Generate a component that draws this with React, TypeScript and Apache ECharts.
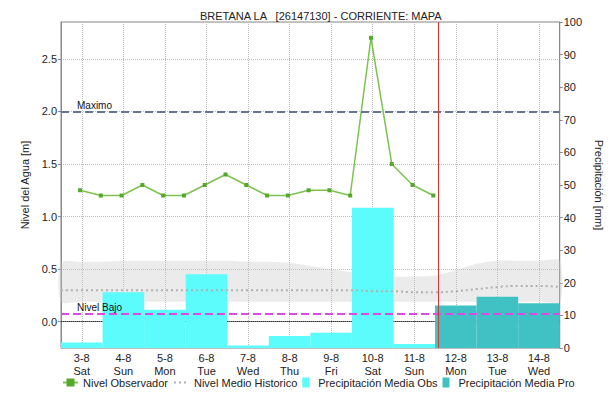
import React, { useEffect, useRef } from "react";
import * as echarts from "echarts";

const titleText = "BRETANA LA   [26147130] - CORRIENTE: MAPA";
const dayLabels = ["3-8", "4-8", "5-8", "6-8", "7-8", "8-8", "9-8", "10-8", "11-8", "12-8", "13-8", "14-8"];
const weekDays = ["Sat", "Sun", "Mon", "Tue", "Wed", "Thu", "Fri", "Sat", "Sun", "Mon", "Tue", "Wed"];
// precipitation (mm), observed days then forecast days
const precipObs = [1.7, 17.1, 11.7, 22.6, 0.8, 3.7, 4.7, 43.0, 1.2, null, null, null];
const precipPro = [null, null, null, null, null, null, null, null, null, 13.0, 15.7, 13.7];
// observed level readings (hours since 3-8 00:00, metres)
const obsHours = [11, 23, 35, 47, 59, 71, 83, 95, 107, 119, 131, 143, 155, 167, 179, 191, 203, 215];
const obsLevel = [1.25, 1.2, 1.2, 1.3, 1.2, 1.2, 1.3, 1.4, 1.3, 1.2, 1.2, 1.25, 1.25, 1.2, 2.7, 1.5, 1.3, 1.2];
// historical level band (every 12 h)
const histHours = [0, 12, 24, 36, 48, 60, 72, 84, 96, 108, 120, 132, 144, 156, 168, 180, 192, 204, 216, 228, 240, 252, 264, 276, 288];
const histUpper = [0.56, 0.57, 0.57, 0.58, 0.58, 0.58, 0.58, 0.58, 0.58, 0.57, 0.57, 0.56, 0.53, 0.5, 0.47, 0.45, 0.43, 0.43, 0.44, 0.49, 0.55, 0.58, 0.58, 0.58, 0.58];
const histLower = [0.19, 0.19, 0.19, 0.19, 0.19, 0.19, 0.19, 0.19, 0.19, 0.19, 0.19, 0.19, 0.19, 0.19, 0.19, 0.19, 0.19, 0.19, 0.19, 0.19, 0.19, 0.19, 0.19, 0.19, 0.19];
const histMean = [0.3, 0.3, 0.3, 0.3, 0.3, 0.3, 0.3, 0.3, 0.3, 0.3, 0.3, 0.3, 0.3, 0.3, 0.3, 0.29, 0.29, 0.28, 0.28, 0.29, 0.31, 0.33, 0.34, 0.34, 0.33];
const levelMax = 2.0;
const levelLow = 0.08;
const nowHour = 218;
const levelAxisMin = -0.25;
const levelAxisMax = 2.85;
const precipAxisMax = 100;

const FONT = "Liberation Sans";

export default function App() {
  const ref = useRef<HTMLDivElement>(null);
  useEffect(() => {
    if (!ref.current) return;
    const chart = echarts.init(ref.current, null, { renderer: "svg" });
    const toDay = (h: number) => h / 24;
    const option: any = {
      animation: false,
      textStyle: { fontFamily: FONT },
      title: {
        text: titleText,
        left: 195,
        top: 5,
        textStyle: { fontSize: 11, fontWeight: "normal", color: "#222", fontFamily: FONT },
      },
      grid: { left: 61, right: 47, top: 22, bottom: 54, show: true, borderColor: "#888", borderWidth: 1, backgroundColor: "transparent" },
      legend: {
        bottom: 9,
        left: 57,
        width: 580,
        itemGap: 5,
        itemWidth: 15,
        itemHeight: 10,
        textStyle: { fontSize: 11, color: "#222", fontFamily: FONT },
        data: [
          { name: "Nivel Observador" },
          { name: "Nivel Medio Historico", itemStyle: { opacity: 0 } },
          { name: "Precipitación Media Obs", icon: "path://M0,0H7V10H0Z" },
          { name: "Precipitación Media Pro", icon: "path://M0,0H7V10H0Z" },
        ],
      },
      xAxis: [
        {
          type: "category",
          data: dayLabels.map((d, i) => d + "\n" + weekDays[i]),
          boundaryGap: true,
          axisLine: { lineStyle: { color: "#333", type: "dotted" } },
          axisTick: { show: false },
          axisLabel: { fontSize: 11, color: "#222", lineHeight: 13, margin: 3, interval: 0 },
          splitLine: { show: true, alignWithLabel: true, lineStyle: { color: "#BBB", type: "dotted" } },
        },
        { type: "value", min: 0, max: 12, show: false },
      ],
      yAxis: [
        {
          type: "value",
          min: levelAxisMin,
          max: levelAxisMax,
          splitNumber: 6,
          name: "Nivel del Agua [m]",
          nameLocation: "middle",
          nameGap: 31,
          nameTextStyle: { fontSize: 11, color: "#222" },
          axisLine: { show: true, lineStyle: { color: "#888" } },
          axisTick: { show: true, length: 3, lineStyle: { color: "#888" } },
          axisLabel: {
            fontSize: 11,
            color: "#222",
            margin: 4,
            showMinLabel: false,
            showMaxLabel: false,
            formatter: (v: number) => (Math.abs(v / 0.5 - Math.round(v / 0.5)) < 1e-6 ? v.toFixed(1) : ""),
          },
          splitLine: { show: true, lineStyle: { color: "#BBB", type: "dotted" } },
        },
        {
          type: "value",
          min: 0,
          max: precipAxisMax,
          interval: 10,
          name: "Precipitación [mm]",
          nameLocation: "middle",
          nameRotate: -90,
          nameGap: 30,
          nameTextStyle: { fontSize: 11, color: "#222" },
          axisLine: { show: true, lineStyle: { color: "#888" } },
          axisTick: { show: true, length: 3, lineStyle: { color: "#888" } },
          axisLabel: { fontSize: 11, color: "#222", margin: 4 },
          splitLine: { show: false },
        },
      ],
      series: [
        {
          name: "Precipitación Media Obs",
          type: "bar",
          xAxisIndex: 0,
          yAxisIndex: 1,
          data: precipObs.map((v) => (v === null ? "-" : v)),
          barWidth: "100%",
          barGap: "-100%",
          itemStyle: { color: "#5CFCFC" },
        },
        {
          name: "Precipitación Media Pro",
          type: "bar",
          xAxisIndex: 0,
          yAxisIndex: 1,
          data: precipPro.map((v) => (v === null ? "-" : v)),
          barWidth: "100%",
          barGap: "-100%",
          itemStyle: { color: "#40C2C4" },
        },
        {
          name: "bandHist",
          type: "custom",
          xAxisIndex: 1,
          yAxisIndex: 0,
          silent: true,
          data: [[0, 0]],
          renderItem: (params: any, api: any) => {
            const top = histHours.map((h, i) => api.coord([toDay(h), histUpper[i]]));
            const bottom = histHours.map((h, i) => api.coord([toDay(h), histLower[i]])).reverse();
            return {
              type: "group",
              children: [
                {
                  type: "polygon",
                  shape: { points: top.concat(bottom), smooth: 0.25 },
                  style: { fill: "rgba(200,200,200,0.36)" },
                },
              ],
            };
          },
        },
        {
          name: "Nivel Medio Historico",
          type: "line",
          xAxisIndex: 1,
          yAxisIndex: 0,
          smooth: true,
          symbol: "none",
          itemStyle: { color: "#B0B0B0" },
          lineStyle: { color: "#B0B0B0", width: 2, type: [2, 3] },
          data: histHours.map((h, i) => [toDay(h), histMean[i]]),
          markLine: {
            silent: true,
            symbol: "none",
            data: [
              {
                yAxis: levelMax,
                lineStyle: { color: "#66768F", width: 2, type: [8, 4] },
                label: { show: true, formatter: "Maximo", position: "insideStartTop", color: "#111", fontSize: 10, padding: [0, 0, 0, 15], distance: 1 },
              },
              {
                yAxis: levelLow,
                lineStyle: { color: "#D84DE0", width: 2, type: [8, 4] },
                label: { show: true, formatter: "Nivel Bajo", position: "insideStartTop", color: "#111", fontSize: 10, padding: [0, 0, 0, 15], distance: 1 },
              },
              {
                xAxis: toDay(nowHour),
                lineStyle: { color: "#CC3A3A", width: 1, type: "solid" },
                label: { show: false },
              },
            ],
          },
        },
        {
          name: "Nivel Observador",
          type: "line",
          xAxisIndex: 1,
          yAxisIndex: 0,
          symbol: "rect",
          symbolSize: 4,
          itemStyle: { color: "#55A82C" },
          lineStyle: { color: "#7CC24F", width: 1.5 },
          data: obsHours.map((h, i) => [toDay(h), obsLevel[i]]),
        },
      ],
    };
    chart.setOption(option);
    return () => chart.dispose();
  }, []);
  return <div ref={ref} style={{ position: "fixed", left: 0, top: 0, width: 612, height: 402, background: "#fff" }} />;
}
